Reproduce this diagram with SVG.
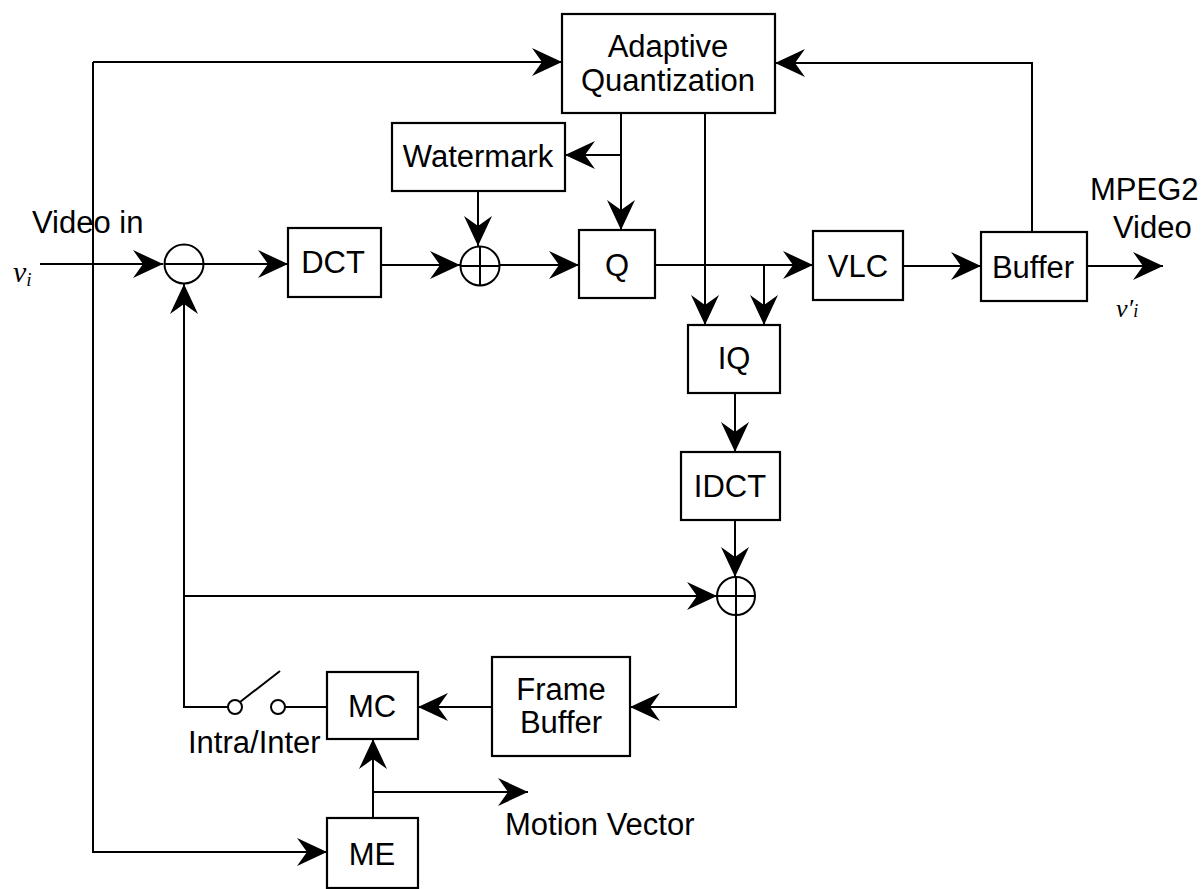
<svg xmlns="http://www.w3.org/2000/svg" width="1202" height="889" viewBox="0 0 1202 889">
<style>
  .box { fill: #fff; stroke: #000; stroke-width: 2.2; }
  .lbl { font-family: "Liberation Sans", Arial, sans-serif; font-size: 31px; fill: #000; text-anchor: middle; }
  .free { font-family: "Liberation Sans", Arial, sans-serif; font-size: 31px; fill: #000; }
  .math { font-family: "Liberation Serif", "Times New Roman", serif; font-style: italic; fill: #000; }
  .wire { fill: none; stroke: #000; stroke-width: 2; }
  .wa { fill: none; stroke: #000; stroke-width: 2; marker-end: url(#ah); }
  .sum { fill: #fff; stroke: #000; stroke-width: 2; }
</style>
<defs>
  <marker id="ah" markerUnits="userSpaceOnUse" markerWidth="34" markerHeight="32" viewBox="-32 -16 34 32" refX="0" refY="0" orient="auto">
    <path d="M0,0 L-30,-14 L-20,0 L-30,14 Z" fill="#000"/>
  </marker>
</defs>
<rect width="1202" height="889" fill="#fff"/>

<g id="connectors">
  <path class="wa" d="M40,264 H163"/>
  <path class="wa" d="M204,264 H288"/>
  <path class="wa" d="M381,265 H460"/>
  <path class="wa" d="M500,265 H579"/>
  <path class="wa" d="M655,265 H813"/>
  <path class="wa" d="M903,266 H981"/>
  <path class="wa" d="M1087,266 H1163"/>
  <path class="wa" d="M1032,232 V63 H775"/>
  <path class="wa" d="M93,62 H562"/>
  <path class="wa" d="M93,62 V852 H327"/>
  <path class="wa" d="M621,113 V230"/>
  <path class="wa" d="M621,155 H565"/>
  <path class="wa" d="M478,191 V246"/>
  <path class="wa" d="M705,113 V325"/>
  <path class="wa" d="M764,265 V325"/>
  <path class="wa" d="M735,393 V452"/>
  <path class="wa" d="M735,520 V577"/>
  <path class="wa" d="M736,615 V707 H630"/>
  <path class="wa" d="M492,707 H418"/>
  <path class="wire" d="M327,707 H285"/>
  <path class="wa" d="M228,707 H184 V284"/>
  <path class="wa" d="M184,596 H717"/>
  <path class="wa" d="M373,818 V739"/>
  <path class="wa" d="M373,792 H528"/>
</g>

<g id="switch">
  <circle class="sum" cx="235" cy="707" r="7"/>
  <circle class="sum" cx="278" cy="707" r="7"/>
  <path class="wire" d="M240,702 L280,671"/>
  <text class="free" x="188" y="753">Intra/Inter</text>
</g>

<g id="subtractor">
  <circle class="sum" cx="184" cy="264" r="19.5"/>
  <path class="wire" d="M164.5,264 H203.5"/>
</g>

<g id="adder1">
  <circle class="sum" cx="480" cy="266" r="19.5"/>
  <path class="wire" d="M460.5,266 H499.5 M480,246.5 V285.5"/>
</g>

<g id="adder2">
  <circle class="sum" cx="736" cy="596" r="19"/>
  <path class="wire" d="M717,596 H755 M736,577 V615"/>
</g>

<g id="aq">
  <rect class="box" x="562" y="14" width="213" height="99"/>
  <text class="lbl" x="668" y="57">Adaptive</text>
  <text class="lbl" x="668" y="91">Quantization</text>
</g>

<g id="watermark">
  <rect class="box" x="392" y="123" width="173" height="68"/>
  <text class="lbl" x="478" y="167">Watermark</text>
</g>

<g id="dct">
  <rect class="box" x="288" y="228" width="93" height="69"/>
  <text class="lbl" x="333" y="273">DCT</text>
</g>

<g id="q">
  <rect class="box" x="579" y="230" width="76" height="68"/>
  <text class="lbl" x="617" y="276">Q</text>
</g>

<g id="vlc">
  <rect class="box" x="813" y="231" width="90" height="69"/>
  <text class="lbl" x="858" y="277">VLC</text>
</g>

<g id="buffer">
  <rect class="box" x="981" y="232" width="106" height="69"/>
  <text class="lbl" x="1033" y="278">Buffer</text>
</g>

<g id="iq">
  <rect class="box" x="688" y="325" width="92" height="68"/>
  <text class="lbl" x="734" y="369">IQ</text>
</g>

<g id="idct">
  <rect class="box" x="681" y="452" width="99" height="68"/>
  <text class="lbl" x="730" y="497">IDCT</text>
</g>

<g id="framebuffer">
  <rect class="box" x="492" y="657" width="138" height="99"/>
  <text class="lbl" x="561" y="700">Frame</text>
  <text class="lbl" x="561" y="733">Buffer</text>
</g>

<g id="mc">
  <rect class="box" x="327" y="672" width="91" height="67"/>
  <text class="lbl" x="372" y="717">MC</text>
</g>

<g id="me">
  <rect class="box" x="327" y="818" width="91" height="70"/>
  <text class="lbl" x="372" y="865">ME</text>
</g>

<g id="labels">
  <text class="free" x="32" y="233">Video in</text>
  <text class="math" x="13" y="282" font-size="30">v<tspan font-size="19" dy="4">i</tspan></text>
  <text class="free" x="1090" y="200" font-size="28">MPEG2</text>
  <text class="free" x="1113" y="238" font-size="28">Video</text>
  <text class="math" x="1116" y="317" font-size="26">v′<tspan font-size="18">i</tspan></text>
  <text class="free" x="505" y="835">Motion Vector</text>
</g>
</svg>
